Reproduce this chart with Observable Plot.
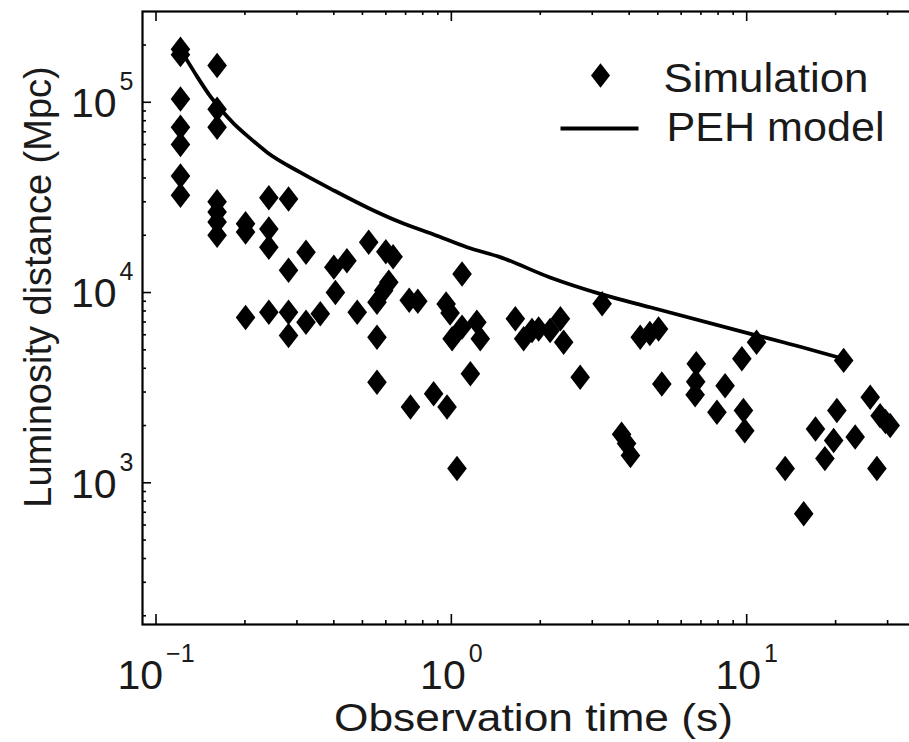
<!DOCTYPE html>
<html><head><meta charset="utf-8">
<script src="https://cdn.jsdelivr.net/npm/d3@7"></script>
<script src="https://cdn.jsdelivr.net/npm/@observablehq/plot@0.6"></script>
<style>
html,body{margin:0;padding:0;overflow:hidden;background:#fff;width:909px;height:742px}
#chart svg{display:block;max-width:none !important;width:926px !important;height:742px !important}
</style>
</head><body><div id="chart"></div>
<script>
// Simulation points (observation time s, luminosity distance Mpc)
const simTime = [
  0.121,0.121,0.121,0.121,0.121,0.121,0.121,
  0.161,0.161,0.161,0.161,0.161,0.161,0.161,
  0.201,0.201,0.201,
  0.241,0.241,0.241,0.241,
  0.281,0.281,0.281,0.281,
  0.322,0.322,
  0.360,
  0.400,0.405,
  0.443,
  0.480,
  0.525,
  0.560,0.560,0.560,
  0.590,0.614,
  0.600,0.635,
  0.727,
  0.720,0.770,
  0.871,
  0.967,
  0.960,0.990,
  1.045,
  1.006,
  1.087,1.087,
  1.22,
  1.253,
  1.16,
  1.647,1.757,1.875,1.975,2.16,2.34,2.40,
  2.73,
  3.24,
  3.77,3.92,4.04,
  4.36,4.70,5.03,
  5.16,
  6.75,6.72,6.69,
  8.45,
  7.93,
  9.63,
  10.8,
  9.75,9.85,
  13.5,
  15.6,
  21.3,
  20.2,
  17.1,
  19.7,
  18.4,
  23.3,
  26.2,
  27.6,
  28.3,29.5,30.6
];
const simDist = [
  190000,178000,104000,74000,60000,41000,32500,
  156000,92000,74000,30000,26500,23500,20000,
  23000,20800,7400,
  31500,21600,17300,7870,
  31000,13100,7870,5940,
  16300,6980,
  7730,
  13600,10000,
  14700,
  7870,
  18400,
  8890,5820,3380,
  10260,11330,
  16400,15400,
  2500,
  9100,9000,
  2940,
  2500,
  8700,7800,
  1190,
  5720,
  6580,12500,
  6980,
  5720,
  3740,
  7280,5720,6310,6440,6310,7280,5480,
  3590,
  8730,
  1800,1610,1390,
  5820,6100,6440,
  3310,
  4220,3400,2900,
  3240,
  2350,
  4490,
  5480,
  2400,1880,
  1190,
  688,
  4400,
  2400,
  1920,
  1670,
  1340,
  1740,
  2820,
  1190,
  2250,2100,2000
];
// PEH model curve
const modelTime = [0.124,0.138,0.153,0.165,0.183,0.209,0.238,0.308,0.40,0.519,0.672,0.871,1.13,1.47,2.16,3.19,4.71,10.3,13.3,21.3];
const modelDist = [178000,136000,107000,92400,77500,64400,54500,42800,34400,28000,23400,20200,17300,15300,12000,9840,8370,6070,5480,4480];

const xMajor = [0.1, 1, 10];
const xTickLabels = ["10^\u22121", "10^0", "10^1"];
const yMajor = [1e3, 1e4, 1e5];
const yTickLabels = ["10^3", "10^4", "10^5"];
const legendLabels = ["Simulation", "PEH model"];
const xTitle = "Observation time (s)";
const yTitle = "Luminosity distance (Mpc)";

const xDomain = [0.09, 40];
const yDomain = [180, 3e5];

// minor tick values (2..9 in each decade)
const xMinor = [], yMinor = [];
for (const d of [0.1, 1, 10]) for (let k = 2; k <= 9; k++) { const v = d * k; if (v < xDomain[1]) xMinor.push(v); }
for (const d of [100, 1000, 10000, 100000]) for (let k = 2; k <= 9; k++) { const v = d * k; if (v > yDomain[0] && v < yDomain[1]) yMinor.push(v); }

const W = 926, H = 742, mL = 142, mR = 2, mT = 11, mB = 118;
const innerW = W - mL - mR, innerH = H - mT - mB;

const diamond = {
  draw(ctx, size) {
    const r = Math.sqrt(size / Math.PI);
    const w = r, h = r * 1.3;
    ctx.moveTo(0, -h); ctx.lineTo(w, 0); ctx.lineTo(0, h); ctx.lineTo(-w, 0); ctx.closePath();
  }
};
const legendLine = {
  draw(ctx, size) { ctx.moveTo(-39, 0); ctx.lineTo(39, 0); }
};

const sim = simTime.map((t, i) => ({t, d: simDist[i]}));
const model = modelTime.map((t, i) => ({t, d: modelDist[i]}));

const font = "'Liberation Sans', Arial, Helvetica, sans-serif";

const chart = Plot.plot({
  width: W, height: H,
  marginLeft: mL, marginRight: mR, marginTop: mT, marginBottom: mB,
  style: {fontFamily: font, background: "#fff", color: "#000", maxWidth: "none"},
  x: {type: "log", domain: xDomain, axis: null},
  y: {type: "log", domain: yDomain, axis: null},
  marks: [
    // ticks: bottom & top (x), left (y), pointing inward
    Plot.ruleX(xMajor, {x: d => d, insetTop: innerH - 10, stroke: "#000", strokeWidth: 1.6}),
    Plot.ruleX(xMinor, {x: d => d, insetTop: innerH - 4, stroke: "#000", strokeWidth: 1.6}),
    Plot.ruleX(xMajor, {x: d => d, insetBottom: innerH - 10, stroke: "#000", strokeWidth: 1.6}),
    Plot.ruleX(xMinor, {x: d => d, insetBottom: innerH - 4, stroke: "#000", strokeWidth: 1.6}),
    Plot.ruleY(yMajor, {y: d => d, insetRight: innerW - 9, stroke: "#000", strokeWidth: 1.6}),
    Plot.ruleY(yMinor, {y: d => d, insetRight: innerW - 4, stroke: "#000", strokeWidth: 1.6}),
    Plot.frame({stroke: "#000", strokeWidth: 2.2}),
    // model line
    Plot.line(model, {x: "t", y: "d", stroke: "#000", strokeWidth: 3.8, curve: "monotone-x"}),
    // simulation points
    Plot.dot(sim, {x: "t", y: "d", symbol: diamond, r: 9.8, fill: "#000", stroke: "none"}),
    // tick labels
    Plot.text(xMajor, {x: d => d, text: (d, i) => xTickLabels[i], frameAnchor: "bottom", lineAnchor: "bottom",
      dy: 64, fontSize: 41, textAnchor: "middle", fill: "#1a1a1a"}),
    Plot.text(yMajor, {y: d => d, text: (d, i) => yTickLabels[i], frameAnchor: "left", lineAnchor: "bottom",
      dx: -9, dy: 14.7, fontSize: 41, textAnchor: "end", fill: "#1a1a1a"}),
    // axis titles
    Plot.text([xTitle], {text: d => d, frameAnchor: "bottom", lineAnchor: "bottom", dy: 106, fontSize: 38,
      textAnchor: "middle", fill: "#1a1a1a"}),
    Plot.text([yTitle], {text: d => d, frameAnchor: "left", rotate: -90, lineAnchor: "bottom", dx: -92, dy: -31,
      fontSize: 38, textAnchor: "middle", fill: "#1a1a1a"}),
    // legend
    Plot.dot([legendLabels[0]], {frameAnchor: "top-left", dx: 458, dy: 64, symbol: diamond, r: 9.5, fill: "#000", stroke: "none"}),
    Plot.dot([legendLabels[1]], {frameAnchor: "top-left", dx: 457, dy: 117, symbol: legendLine, r: 5, fill: "none", stroke: "#000", strokeWidth: 3.8}),
    Plot.text([legendLabels[0]], {text: d => d, frameAnchor: "top-left", dx: 521, dy: 80, lineAnchor: "bottom",
      textAnchor: "start", fontSize: 40, fill: "#1a1a1a"}),
    Plot.text([legendLabels[1]], {text: d => d, frameAnchor: "top-left", dx: 524, dy: 129, lineAnchor: "bottom",
      textAnchor: "start", fontSize: 40, fill: "#1a1a1a"})
  ]
});

chart.style.maxWidth = "none";
document.getElementById("chart").appendChild(chart);

// superscript exponents and width adjustments
const NS = "http://www.w3.org/2000/svg";
const stretchLen = {};
stretchLen[xTitle] = 399;
stretchLen[legendLabels[0]] = 205;
stretchLen[legendLabels[1]] = 218;
chart.querySelectorAll("text").forEach(t => {
  const s = t.textContent;
  if (s.includes("^")) {
    const [b, e] = s.split("^");
    while (t.firstChild) t.removeChild(t.firstChild);
    t.appendChild(document.createTextNode(b));
    const ts = document.createElementNS(NS, "tspan");
    ts.setAttribute("font-size", "25");
    ts.setAttribute("dy", "-27");
    ts.setAttribute("dx", "3");
    ts.textContent = e;
    t.appendChild(ts);
  } else if (stretchLen[s]) {
    t.setAttribute("textLength", stretchLen[s]);
    t.setAttribute("lengthAdjust", "spacingAndGlyphs");
  }
});
</script>
</body></html>
